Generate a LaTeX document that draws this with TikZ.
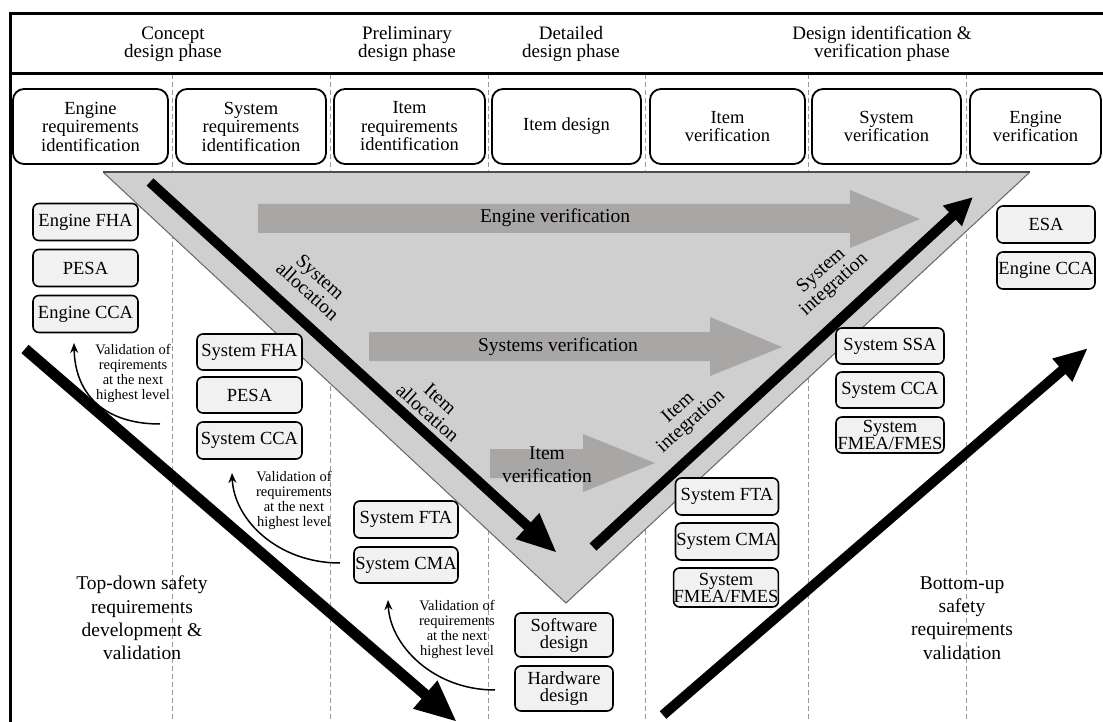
\documentclass[tikz,border=0pt]{standalone}
\usepackage{fontspec}
\setmainfont{Liberation Serif}
\usetikzlibrary{arrows.meta}
\definecolor{trifill}{HTML}{CFCFCF}
\definecolor{arrgray}{HTML}{A9A6A6}
\definecolor{boxfill}{HTML}{F1F1F1}
\definecolor{dashgray}{HTML}{9A9A9A}
\newcommand{\fsz}[2]{\fontsize{#1}{#2}\selectfont}
\begin{document}
\begin{tikzpicture}[x=1pt,y=-1pt,
 topbox/.style={draw=black, line width=1.8pt, rounded corners=11pt, fill=white, align=center, inner sep=0pt, font=\fsz{18.5}{18.5}},
 sbox/.style={draw=black, line width=1.6pt, rounded corners=6pt, fill=boxfill, align=center, inner sep=0pt, font=\fsz{18.5}{17}},
 hdr/.style={align=center, font=\fsz{19}{18}, inner sep=0pt},
 valtxt/.style={align=center, font=\fsz{14.5}{15}, inner sep=0pt},
 bigtxt/.style={align=center, font=\fsz{19.5}{23.3}, inner sep=0pt},
 rottxt/.style={align=center, font=\fsz{19.5}{19}, inner sep=0pt},
 vertxt/.style={align=center, font=\fsz{19.5}{23}, inner sep=0pt},
 sepline/.style={draw=dashgray, line width=0.8pt, dash pattern=on 5pt off 3pt},
 frameline/.style={line width=3pt, line join=miter},
 fat/.style={line width=10pt},
 valarrow/.style={line width=1.5pt, -{Stealth[length=10pt,width=8pt]}}
]
\useasboundingbox (0,0) rectangle (1103,722);
\fill[white] (0,0) rectangle (1103,722);

% dashed column separators
\foreach \xx in {172,330,488,645,808,966}{
  \draw[sepline] (\xx,74) -- (\xx,722);
}

% frame
\draw[frameline] (10,730) -- (10,14) -- (1110,14);
\draw[frameline] (10,74) -- (1110,74);

% header texts
\node[hdr] (h1) at (173,44) {Concept\\design phase};
\node[hdr] (h2) at (407,44) {Preliminary\\design phase};
\node[hdr] (h3) at (571,44) {Detailed\\design phase};
\node[hdr] (h4) at (882,44) {Design identification \&\\verification phase};

% top boxes
\node[topbox, minimum width=155pt, minimum height=75pt] (t1) at (90.5,126.5) {Engine\\requirements\\identification};
\node[topbox, minimum width=150pt, minimum height=75pt] (t2) at (251,126.5) {System\\requirements\\identification};
\node[topbox, minimum width=151pt, minimum height=75pt] (t3) at (409.5,126.5) {Item\\requirements\\identification};
\node[topbox, minimum width=149pt, minimum height=75pt] (t4) at (566.5,126.5) {Item design};
\node[topbox, minimum width=155pt, minimum height=75pt] (t5) at (727.5,126.5) {Item\\verification};
\node[topbox, minimum width=149pt, minimum height=75pt] (t6) at (886.5,126.5) {System\\verification};
\node[topbox, minimum width=131pt, minimum height=75pt] (t7) at (1035.5,126.5) {Engine\\verification};

% triangle
\fill[trifill] (103,172) -- (1030,172) -- (566,603) -- cycle;
\draw[black!60, line width=1pt] (103,172) -- (566,603) -- (1030,172);
\draw[black!70, line width=2pt] (103,172) -- (1030,172);

% gray verification arrows
\fill[arrgray] (258,204) -- (850,204) -- (850,190) -- (920,219) -- (850,248) -- (850,233) -- (258,233) -- cycle;
\fill[arrgray] (369,332) -- (710,332) -- (710,317) -- (782,347) -- (710,376) -- (710,361) -- (369,361) -- cycle;
\fill[arrgray] (490,449) -- (583,449) -- (583,434) -- (655,463) -- (583,492) -- (583,478) -- (490,478) -- cycle;
\node[vertxt] (evtext) at (555,218) {Engine verification};
\node[vertxt] (svtext) at (558,347) {Systems verification};
\node[vertxt] (ivtext) at (547,465) {Item\\verification};

% black arrows in triangle
\coordinate (allocS) at (150,182);
\coordinate (allocE) at (557,553);
\draw[fat, -{Triangle[length=40pt,width=32pt]}] (allocS) -- (allocE);
\coordinate (integS) at (593,547);
\coordinate (integE) at (973,197);
\draw[fat, -{Triangle[length=28pt,width=26pt]}] (integS) -- (integE);

\node[rottxt, rotate=-42] (salloc) at (314,284) {System\\allocation};
\node[rottxt, rotate=-42] (ialloc) at (434,406) {Item\\allocation};
\node[rottxt, rotate=42] (sinteg) at (828,278) {System\\integration};
\node[rottxt, rotate=42] (iinteg) at (685,415) {Item\\integration};

% big diagonal arrows
\coordinate (tdS) at (25,349);
\coordinate (tdE) at (457,722);
\draw[line width=11pt, -{Triangle[length=42pt,width=34pt]}] (tdS) -- (tdE);
\coordinate (buS) at (663,715);
\coordinate (buE) at (1088,348);
\draw[fat, -{Triangle[length=34pt,width=28pt]}] (buS) -- (buE);

\node[bigtxt] (topdown) at (142,618) {Top-down safety\\requirements\\development \&\\validation};
\node[bigtxt] (bottomup) at (962,618) {Bottom-up\\safety\\requirements\\validation};

% small boxes column 1
\node[sbox, minimum width=105pt, minimum height=37pt] (c1a) at (85.5,222) {Engine FHA};
\node[sbox, minimum width=105pt, minimum height=37pt] (c1b) at (85.5,268) {PESA};
\node[sbox, minimum width=105pt, minimum height=37pt] (c1c) at (85.5,314) {Engine CCA};
% column 2
\node[sbox, minimum width=105pt, minimum height=36pt] (c2a) at (249.5,352) {System FHA};
\node[sbox, minimum width=105pt, minimum height=36pt] (c2b) at (249.5,395) {PESA};
\node[sbox, minimum width=105pt, minimum height=37pt] (c2c) at (249.5,440.5) {System CCA};
% column 3
\node[sbox, minimum width=104pt, minimum height=37pt] (c3a) at (406,519.5) {System FTA};
\node[sbox, minimum width=104pt, minimum height=36pt] (c3b) at (406,565) {System CMA};
% column 4
\node[sbox, minimum width=98pt, minimum height=44pt] (c4a) at (564,635) {Software\\design};
\node[sbox, minimum width=98pt, minimum height=45pt] (c4b) at (564,688.5) {Hardware\\design};
% column 5
\node[sbox, minimum width=103pt, minimum height=37pt] (c5a) at (727,496.5) {System FTA};
\node[sbox, minimum width=103pt, minimum height=37pt] (c5b) at (727,541.5) {System CMA};
\node[sbox, minimum width=104pt, minimum height=39pt] (c5c) at (726,587.5) {System\\FMEA/FMES};
% column 6
\node[sbox, minimum width=108pt, minimum height=36pt] (c6a) at (890,346) {System SSA};
\node[sbox, minimum width=108pt, minimum height=36pt] (c6b) at (890,390) {System CCA};
\node[sbox, minimum width=108pt, minimum height=36pt] (c6c) at (890,435) {System\\FMEA/FMES};
% column 7
\node[sbox, minimum width=98pt, minimum height=37pt] (c7a) at (1046,224.5) {ESA};
\node[sbox, minimum width=98pt, minimum height=37pt] (c7b) at (1046,270.5) {Engine CCA};

% validation arrows and texts
\coordinate (v1s) at (160,424);
\coordinate (v1e) at (74,343);
\draw[valarrow] (v1s) .. controls (105,424) and (75,395) .. (v1e);
\node[valtxt] (val1) at (133,373) {Validation of\\reqirements\\at the next\\highest level};

\coordinate (v2s) at (340,563);
\coordinate (v2e) at (232,473);
\draw[valarrow] (v2s) .. controls (278,563) and (234,520) .. (v2e);
\node[valtxt] (val2) at (294,500) {Validation of\\requirements\\at the next\\highest level};

\coordinate (v3s) at (495,690);
\coordinate (v3e) at (388,600);
\draw[valarrow] (v3s) .. controls (433,690) and (390,645) .. (v3e);
\node[valtxt] (val3) at (457,629) {Validation of\\requirements\\at the next\\highest level};
\end{tikzpicture}
\end{document}
